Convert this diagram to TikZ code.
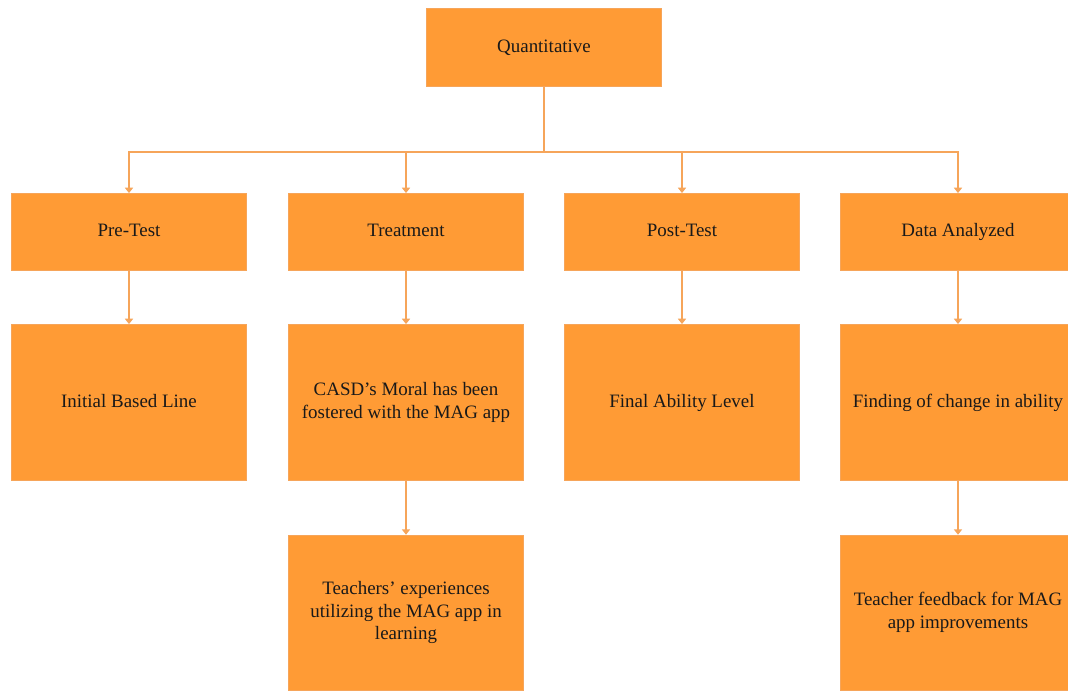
\documentclass[tikz,border=0pt]{standalone}
\usepackage{fontspec}
\setmainfont{Liberation Serif}
\usetikzlibrary{arrows.meta}
\definecolor{boxor}{HTML}{FF9B35}
\definecolor{lineor}{HTML}{F6A55A}
\begin{document}
\begin{tikzpicture}[x=0.75pt,y=-0.75pt,
  obox/.style={fill=boxor,draw=lineor,line width=0.4pt,minimum width=176.5pt,inner sep=0pt,align=center,
    font=\fontsize{14.2}{16.9}\selectfont,text=black!90},
  conn/.style={draw=lineor,line width=1pt},
  arr/.style={conn,-{Triangle[width=6pt,length=4pt]}}]
\useasboundingbox (0,0) rectangle (1068,690);
\clip (0,0) rectangle (1068,690);
\fill[white] (0,0) rectangle (1068,690);
\node[obox,minimum height=58.75pt] (q) at (544,47.5) {\strut Quantitative};
\node[obox,minimum height=58pt] (pre) at (129,232) {\strut Pre-Test};
\node[obox,minimum height=58pt] (tre) at (406,232) {\strut Treatment};
\node[obox,minimum height=58pt] (post) at (682,232) {\strut Post-Test};
\node[obox,minimum height=58pt] (data) at (958,232) {\strut Data Analyzed};
\node[obox,minimum height=117.25pt] (ibl) at (129,402.5) {\strut Initial Based Line};
\node[obox,minimum height=117.25pt] (casd) at (406,402.5) {CASD’s Moral has been\\fostered with the MAG app};
\node[obox,minimum height=117.25pt] (fal) at (682,402.5) {\strut Final Ability Level};
\node[obox,minimum height=117.25pt] (find) at (958,402.5) {\strut Finding of change in ability};
\node[obox,minimum height=116.25pt] (teach) at (406,612.5) {Teachers’ experiences\\utilizing the MAG app in\\learning};
\node[obox,minimum height=116.25pt] (feed) at (958,612.5) {Teacher feedback for MAG\\app improvements};
\coordinate (j) at (544,152);
\draw[conn] (q.south) -- (j);
\draw[arr] (j) -| (pre.north);
\draw[arr] (j) -| (tre.north);
\draw[arr] (j) -| (post.north);
\draw[arr] (j) -| (data.north);
\draw[arr] (pre) -- (ibl);
\draw[arr] (tre) -- (casd);
\draw[arr] (post) -- (fal);
\draw[arr] (data) -- (find);
\draw[arr] (casd) -- (teach);
\draw[arr] (find) -- (feed);
\end{tikzpicture}
\end{document}
